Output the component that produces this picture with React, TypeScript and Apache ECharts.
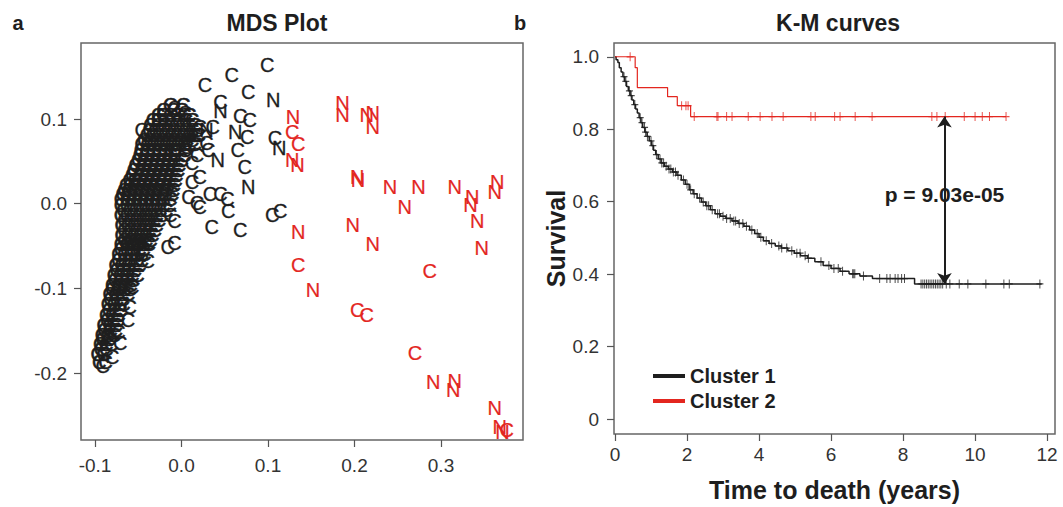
import React, { useEffect, useRef } from "react";
import * as echarts from "echarts";

// ---------- MDS plot data ----------
const mdsXTicks = [-0.1, 0, 0.1, 0.2, 0.3];
const mdsYTicks = [-0.2, -0.1, 0, 0.1];

// dense cluster of black "C": row y values and x positions per row
const blobRowY = [0.117, 0.105, 0.093, 0.081, 0.07, 0.058, 0.046, 0.034, 0.022, 0.011, -0.001, -0.013, -0.025, -0.037, -0.048, -0.06, -0.072, -0.084, -0.096, -0.107, -0.119, -0.131, -0.143, -0.155, -0.166, -0.178, -0.187];
const blobRowX = [
  [-0.013, 0.002],
  [-0.027, -0.021, -0.013, -0.005, 0.003, 0.009],
  [-0.036, -0.027, -0.02, -0.013, -0.006, 0.001, 0.008, 0.015],
  [-0.04, -0.033, -0.026, -0.019, -0.012, -0.005, 0.002, 0.009, 0.015, 0.02],
  [-0.046, -0.039, -0.032, -0.025, -0.018, -0.011, -0.004, 0.003, 0.009, 0.015],
  [-0.048, -0.041, -0.034, -0.027, -0.02, -0.013, -0.006, 0.003],
  [-0.053, -0.044, -0.037, -0.03, -0.023, -0.016, -0.009, -0.003],
  [-0.057, -0.048, -0.041, -0.034, -0.027, -0.02, -0.013, -0.006],
  [-0.064, -0.059, -0.052, -0.045, -0.038, -0.031, -0.024, -0.016, -0.009],
  [-0.068, -0.062, -0.055, -0.048, -0.041, -0.034, -0.027, -0.019, -0.011],
  [-0.07, -0.063, -0.056, -0.049, -0.042, -0.035, -0.028, -0.021, -0.014],
  [-0.07, -0.063, -0.056, -0.049, -0.042, -0.036, -0.029, -0.023],
  [-0.069, -0.062, -0.055, -0.049, -0.042, -0.036, -0.029],
  [-0.069, -0.062, -0.055, -0.048, -0.041, -0.034],
  [-0.07, -0.063, -0.056, -0.05, -0.044, -0.038],
  [-0.073, -0.066, -0.059, -0.052, -0.046, -0.043],
  [-0.076, -0.069, -0.062, -0.055, -0.049],
  [-0.078, -0.071, -0.064, -0.057, -0.051],
  [-0.08, -0.073, -0.066, -0.059],
  [-0.083, -0.076, -0.069, -0.062],
  [-0.085, -0.078, -0.071, -0.067],
  [-0.087, -0.08, -0.073],
  [-0.09, -0.083, -0.076],
  [-0.092, -0.085, -0.078],
  [-0.094, -0.087, -0.081],
  [-0.097, -0.09],
  [-0.095, -0.088],
];
// staggered in-between rows of the same cluster
const blobRowY2 = [0.111, 0.099, 0.087, 0.075, 0.064, 0.052, 0.04, 0.028, 0.016, 0.005, -0.007, -0.019, -0.031, -0.043, -0.054, -0.066, -0.078, -0.09, -0.101, -0.113, -0.125, -0.137, -0.149, -0.16, -0.172];
const blobRowX2 = [
  [-0.021, -0.009, 0.0],
  [-0.033, -0.027, -0.019, -0.011, -0.003, 0.005, 0.012],
  [-0.037, -0.03, -0.023, -0.016, -0.009, -0.002, 0.005, 0.012, 0.018],
  [-0.043, -0.036, -0.029, -0.022, -0.015, -0.008, -0.001, 0.006, 0.012],
  [-0.047, -0.04, -0.033, -0.026, -0.019, -0.012, -0.005, 0.004],
  [-0.05, -0.043, -0.036, -0.029, -0.022, -0.015, -0.008, 0.0],
  [-0.055, -0.046, -0.039, -0.032, -0.025, -0.018, -0.011, -0.004],
  [-0.06, -0.054, -0.05, -0.043, -0.036, -0.029, -0.022, -0.014, -0.007],
  [-0.066, -0.061, -0.054, -0.047, -0.04, -0.033, -0.026, -0.018, -0.01],
  [-0.07, -0.063, -0.056, -0.049, -0.042, -0.035, -0.028, -0.021, -0.013],
  [-0.067, -0.06, -0.053, -0.046, -0.039, -0.032, -0.025, -0.018],
  [-0.066, -0.059, -0.052, -0.045, -0.039, -0.032, -0.026],
  [-0.066, -0.059, -0.052, -0.045, -0.038, -0.031],
  [-0.066, -0.059, -0.053, -0.047, -0.041, -0.036],
  [-0.07, -0.063, -0.056, -0.049, -0.044],
  [-0.073, -0.066, -0.059, -0.052, -0.046],
  [-0.075, -0.068, -0.061, -0.054],
  [-0.077, -0.07, -0.063, -0.056],
  [-0.08, -0.073, -0.066, -0.06],
  [-0.082, -0.075, -0.068],
  [-0.084, -0.077, -0.071],
  [-0.086, -0.079, -0.074],
  [-0.089, -0.082, -0.076],
  [-0.091, -0.084],
  [-0.093, -0.087],
];

const blackC = [
  [0.099, 0.164], [0.058, 0.152], [0.027, 0.14], [0.077, 0.132], [0.045, 0.12], [-0.008, 0.113],
  [0.004, 0.107], [0.068, 0.103], [0.079, 0.099], [0.076, 0.079], [0.108, 0.078], [0.065, 0.064],
  [0.073, 0.043], [0.021, 0.032], [0.012, 0.026], [0.033, 0.011], [0.045, 0.011], [0.053, 0.005],
  [0.021, -0.004], [0.054, -0.009], [0.035, -0.028], [0.068, -0.031], [0.105, -0.013], [0.114, -0.009],
  [-0.008, -0.046], [0.021, 0.09], [0.036, 0.09], [0.008, 0.008], [0.018, 0.001],
  [-0.008, 0.064], [0.006, 0.067], [0.018, 0.058], [0.012, 0.048], [0.029, 0.072], [0.031, 0.064],
  [-0.039, -0.046], [-0.039, -0.068], [-0.057, -0.098], [-0.06, -0.122], [-0.062, -0.137],
  [-0.073, -0.152], [-0.071, -0.164], [-0.08, -0.181], [-0.091, -0.192], [-0.013, -0.013],
  [-0.008, -0.021], [-0.016, -0.051], [-0.046, 0.087],
];
const blackN = [
  [0.106, 0.123], [0.045, 0.109], [0.062, 0.085], [0.113, 0.066], [0.042, 0.052], [0.077, 0.02], [0.029, 0.087],
];
const redC = [
  [0.128, 0.085], [0.135, 0.07], [0.135, -0.072], [0.203, -0.125], [0.214, -0.131], [0.287, -0.08],
  [0.27, -0.176], [0.376, -0.267],
];
const redN = [
  [0.129, 0.102], [0.128, 0.052], [0.134, 0.046], [0.186, 0.119], [0.186, 0.105], [0.214, 0.105],
  [0.221, 0.107], [0.221, 0.09], [0.203, 0.031], [0.204, 0.028], [0.241, 0.02], [0.274, 0.02],
  [0.258, -0.004], [0.316, 0.02], [0.336, 0.008], [0.334, -0.001], [0.342, -0.021], [0.365, 0.026],
  [0.362, 0.014], [0.347, -0.052], [0.135, -0.033], [0.198, -0.025], [0.221, -0.048], [0.152, -0.102],
  [0.291, -0.211], [0.316, -0.21], [0.314, -0.22], [0.362, -0.241], [0.368, -0.264], [0.371, -0.27],
];

// ---------- K-M data ----------
const kmXTicks = [0, 2, 4, 6, 8, 10, 12];
const kmYTicks = [0, 0.2, 0.4, 0.6, 0.8, 1.0];

const cluster1Steps = [
  [0, 1], [0.03, 0.992], [0.08, 0.984], [0.12, 0.97], [0.17, 0.958], [0.22, 0.945], [0.27, 0.932],
  [0.32, 0.918], [0.37, 0.906], [0.42, 0.893], [0.47, 0.881], [0.52, 0.868], [0.57, 0.856],
  [0.62, 0.845], [0.67, 0.832], [0.72, 0.818], [0.77, 0.805], [0.83, 0.792], [0.89, 0.78],
  [0.95, 0.768], [1.01, 0.755], [1.07, 0.742], [1.13, 0.73], [1.2, 0.718], [1.28, 0.707],
  [1.37, 0.698], [1.48, 0.69], [1.6, 0.682], [1.72, 0.673], [1.84, 0.66], [1.95, 0.648],
  [2.06, 0.633], [2.17, 0.622], [2.28, 0.61], [2.4, 0.599], [2.52, 0.589], [2.65, 0.578],
  [2.78, 0.567], [2.92, 0.56], [3.08, 0.554], [3.25, 0.547], [3.42, 0.54], [3.58, 0.532],
  [3.74, 0.522], [3.88, 0.512], [4.0, 0.502], [4.12, 0.492], [4.28, 0.485], [4.45, 0.478],
  [4.62, 0.472], [4.8, 0.465], [4.98, 0.458], [5.15, 0.451], [5.35, 0.444], [5.55, 0.434],
  [5.78, 0.424], [6.0, 0.416], [6.25, 0.408], [6.5, 0.401], [6.8, 0.395], [7.15, 0.388],
  [8.32, 0.373], [11.85, 0.373],
];
const cluster1Censor = [
  0.25, 0.3, 0.4, 0.45, 0.55, 0.7, 0.75, 0.82, 0.85, 0.9, 1.0, 1.05, 1.15, 1.25, 1.3, 1.35, 1.42,
  1.5, 1.55, 1.62, 1.68, 1.75, 1.9, 2.0, 2.1, 2.2, 2.35, 2.45, 2.55, 2.6, 2.7, 2.85, 2.9, 3.0, 3.1,
  3.2, 3.3, 3.35, 3.45, 3.55, 3.65, 3.8, 3.95, 4.05, 4.2, 4.35, 4.55, 4.63, 4.77, 4.91, 5.05, 5.14,
  5.28, 5.37, 5.72, 5.94, 6.08, 6.2, 6.32, 6.6, 6.63, 6.66, 6.9, 7.35, 7.55, 7.64, 7.78, 7.86, 7.96,
  8.04, 8.5, 8.55, 8.6, 8.65, 8.7, 8.75, 8.8, 8.85, 8.9, 8.95, 9.0, 9.05, 9.1, 9.2, 9.3, 9.56, 9.8,
  10.3, 10.8, 10.95, 11.8,
];
const cluster2Steps = [
  [0, 1], [0.56, 0.97], [0.62, 0.915], [1.46, 0.89], [1.73, 0.865], [2.1, 0.835], [10.86, 0.835],
];
const cluster2Censor = [
  0.42, 1.85, 1.97, 2.03, 2.2, 2.83, 2.86, 3.1, 3.25, 3.7, 4.03, 4.36, 4.67, 5.44, 5.56, 6.1, 6.25,
  6.67, 7.14, 8.8, 8.94, 9.17, 9.7, 10.0, 10.2, 10.4, 10.86,
];
const seriesNames = ["Cluster 1", "Cluster 2"];
const pValueText = "p = 9.03e-05";
const arrowTime = 9.15;
const arrowTop = 0.835;
const arrowBottom = 0.373;
const pLabelY = 0.62;

const BLACK = "#1e1e1e";
const RED = "#e3261f";
const FONT = '"Liberation Sans", Arial, Helvetica, sans-serif';

function survAt(steps: number[][], t: number) {
  let s = steps[0][1];
  for (const [st, sv] of steps) {
    if (st <= t) s = sv;
    else break;
  }
  return s;
}

function letterSeries(data: number[][], letter: string, color: string, strokeW: number) {
  return {
    type: "custom",
    coordinateSystem: "cartesian2d",
    xAxisIndex: 0,
    yAxisIndex: 0,
    silent: true,
    data,
    renderItem: (_p: any, api: any) => {
      const pt = api.coord([api.value(0), api.value(1)]);
      return {
        type: "text",
        x: pt[0],
        y: pt[1],
        style: {
          text: letter,
          fill: color,
          stroke: color,
          lineWidth: strokeW,
          fontSize: 20,
          fontFamily: FONT,
          align: "center",
          verticalAlign: "middle",
        },
      };
    },
  };
}

const plusSymbol = "path://M4.3,0h1.4v10h-1.4z M0,4.3h10v1.4h-10z";

export default function App() {
  const ref = useRef<HTMLDivElement>(null);
  useEffect(() => {
    if (!ref.current) return;
    const chart = echarts.init(ref.current, undefined, { renderer: "svg" });

    const blobPts: number[][] = [];
    blobRowY.forEach((y, i) => blobRowX[i].forEach((x) => blobPts.push([x, y])));
    blobRowY2.forEach((y, i) => blobRowX2[i].forEach((x) => blobPts.push([x, y])));

    const tickLabel = { fontSize: 19, color: "#333", fontFamily: FONT };
    const tickLine = { show: true, length: 7, inside: false, lineStyle: { color: "#555", width: 1.2 } };
    const noLine = { show: false, onZero: false };

    const option: any = {
      animation: false,
      backgroundColor: "#ffffff",
      grid: [
        { left: 81, top: 43, width: 442, height: 397, show: true, borderColor: "#666", borderWidth: 1.5, backgroundColor: "transparent" },
        { left: 614, top: 43, width: 441, height: 396, show: true, borderColor: "#666", borderWidth: 1.5, backgroundColor: "transparent" },
      ],
      xAxis: [
        {
          type: "value", gridIndex: 0, min: -0.1162, max: 0.3948,
          axisLine: noLine, splitLine: { show: false },
          axisTick: { ...tickLine, customValues: mdsXTicks },
          axisLabel: { ...tickLabel, margin: 16, customValues: mdsXTicks, formatter: (v: number) => v.toFixed(1) },
        },
        {
          type: "value", gridIndex: 1, min: -0.028, max: 12.22,
          axisLine: noLine, splitLine: { show: false },
          axisTick: { ...tickLine, customValues: kmXTicks },
          axisLabel: { ...tickLabel, margin: 11, customValues: kmXTicks, formatter: (v: number) => String(v) },
          name: "Time to death (years)", nameLocation: "middle", nameGap: 43,
          nameTextStyle: { fontSize: 25, fontWeight: "bold", color: BLACK, fontFamily: FONT },
        },
      ],
      yAxis: [
        {
          type: "value", gridIndex: 0, min: -0.2791, max: 0.1898,
          axisLine: noLine, splitLine: { show: false },
          axisTick: { ...tickLine, customValues: mdsYTicks },
          axisLabel: { ...tickLabel, margin: 14, customValues: mdsYTicks, formatter: (v: number) => v.toFixed(1) },
        },
        {
          type: "value", gridIndex: 1, min: -0.041, max: 1.038,
          axisLine: noLine, splitLine: { show: false },
          axisTick: { ...tickLine, customValues: kmYTicks },
          axisLabel: { ...tickLabel, margin: 15, customValues: kmYTicks, formatter: (v: number) => (v === 0 ? "0" : v.toFixed(1)) },
          name: "Survival", nameLocation: "middle", nameGap: 45, nameRotate: 90,
          nameTextStyle: { fontSize: 25, fontWeight: "bold", color: BLACK, fontFamily: FONT },
        },
      ],
      legend: {
        data: seriesNames,
        orient: "vertical",
        left: 648,
        top: 361,
        icon: "rect",
        itemWidth: 32,
        itemHeight: 4,
        itemGap: 5,
        textStyle: { fontSize: 20, fontWeight: "bold", color: BLACK, fontFamily: FONT },
      },
      graphic: [
        { type: "text", x: 18, y: 23, style: { text: "a", font: `bold 20px ${FONT}`, fill: BLACK, textAlign: "center", textVerticalAlign: "middle" } },
        { type: "text", x: 277, y: 23, style: { text: "MDS Plot", font: `bold 23px ${FONT}`, fill: BLACK, textAlign: "center", textVerticalAlign: "middle" } },
        { type: "text", x: 520, y: 23, style: { text: "b", font: `bold 20px ${FONT}`, fill: BLACK, textAlign: "center", textVerticalAlign: "middle" } },
        { type: "text", x: 838, y: 23, style: { text: "K-M curves", font: `bold 23px ${FONT}`, fill: BLACK, textAlign: "center", textVerticalAlign: "middle" } },
      ],
      series: [
        { ...letterSeries(blobPts, "C", BLACK, 0.6) },
        { ...letterSeries(blackC, "C", BLACK, 0.3) },
        { ...letterSeries(blackN, "N", BLACK, 0.3) },
        { ...letterSeries(redC, "C", RED, 0.2) },
        { ...letterSeries(redN, "N", RED, 0.2) },
        {
          name: seriesNames[0], type: "line", step: "end", xAxisIndex: 1, yAxisIndex: 1,
          symbol: "none", color: BLACK, lineStyle: { color: BLACK, width: 1.5 }, data: cluster1Steps,
          markLine: {
            silent: true, symbol: ["arrow", "arrow"], symbolSize: 11,
            lineStyle: { color: BLACK, width: 2, type: "solid" }, label: { show: false },
            data: [[{ coord: [arrowTime, arrowTop] }, { coord: [arrowTime, arrowBottom] }]],
          },
        },
        {
          name: seriesNames[1], type: "line", step: "end", xAxisIndex: 1, yAxisIndex: 1,
          symbol: "none", color: RED, lineStyle: { color: RED, width: 1.2 }, data: cluster2Steps,
        },
        {
          type: "scatter", xAxisIndex: 1, yAxisIndex: 1, symbol: plusSymbol, symbolSize: [7, 9],
          itemStyle: { color: BLACK }, silent: true,
          data: cluster1Censor.map((t) => [t, survAt(cluster1Steps, t)]),
        },
        {
          type: "scatter", xAxisIndex: 1, yAxisIndex: 1, symbol: plusSymbol, symbolSize: [7, 9],
          itemStyle: { color: RED }, silent: true,
          data: cluster2Censor.map((t) => [t, survAt(cluster2Steps, t)]),
        },
        {
          type: "custom", coordinateSystem: "cartesian2d", xAxisIndex: 1, yAxisIndex: 1, silent: true,
          data: [[arrowTime, pLabelY]],
          renderItem: (_p: any, api: any) => {
            const pt = api.coord([api.value(0), api.value(1)]);
            return {
              type: "text", x: pt[0], y: pt[1],
              style: {
                text: pValueText, fill: BLACK, fontSize: 21, fontWeight: "bold", fontFamily: FONT,
                align: "center", verticalAlign: "middle", backgroundColor: "#ffffff", padding: [3, 2],
              },
            };
          },
        },
      ],
    };
    chart.setOption(option);
    return () => chart.dispose();
  }, []);
  return (
    <div
      ref={ref}
      style={{ position: "fixed", left: 0, top: 0, width: 1063, height: 507, background: "#fff" }}
    />
  );
}
